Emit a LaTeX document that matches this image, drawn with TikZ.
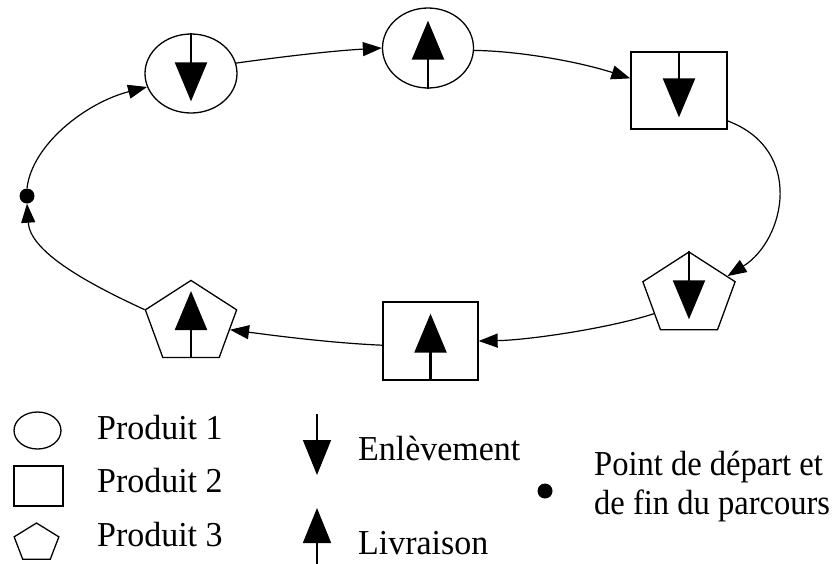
\documentclass[tikz,border=0pt]{standalone}
\usepackage{fontspec}
\setmainfont{Liberation Serif}[FakeStretch=0.97]
\newfontfamily\narrowserif{Liberation Serif}[FakeStretch=0.93]
\usetikzlibrary{arrows.meta,shapes.geometric}
\begin{document}
\begin{tikzpicture}[x=1pt,y=1pt,
  shp/.style={draw, line width=1.3pt, inner sep=0pt},
  ell/.style={shp, ellipse},
  box/.style={shp, rectangle},
  pent/.style={shp, regular polygon, regular polygon sides=5, transform shape},
  link/.style={line width=1.2pt, -{Triangle[length=19pt,width=14pt]}},
  bigarrow/.style={line width=2.4pt, -{Triangle[length=39pt,width=32pt]}},
  legarrow/.style={line width=1.6pt, -{Triangle[length=35pt,width=28pt]}},
  lbl/.style={anchor=base west, font=\fontsize{35}{40}\selectfont, inner sep=0pt},
  nlbl/.style={lbl, font=\narrowserif\fontsize{35}{40}\selectfont},
  pointdot/.style={circle, fill, inner sep=0pt, minimum size=15pt}]
\useasboundingbox (0,0) rectangle (839,-563);
% route nodes
\node[pointdot] (dep) at (27,-196) {};
\node[ell, minimum width=92pt, minimum height=79pt] (c1) at (191,-73.5) {};
\node[ell, minimum width=91pt, minimum height=80pt] (c2) at (428,-48) {};
\node[box, minimum width=96pt, minimum height=77pt] (s1) at (679,-90.5) {};
\node[pent, minimum size=97pt, yscale=0.887] (p1) at (689,-295) {};
\node[box, minimum width=95pt, minimum height=78pt] (s2) at (430.5,-341) {};
\node[pent, minimum size=96pt, yscale=0.887] (p2) at (191,-323) {};
% interior arrows
\draw[bigarrow] (c1.north) -- ++(0,-68);
\draw[bigarrow] (c2.south) -- ++(0,68);
\draw[bigarrow] (s1.north) -- ++(0,-66);
\draw[bigarrow] (p1.corner 1) -- ++(0,-68);
\draw[bigarrow] (s2.south) -- ++(0,67);
\draw[bigarrow] (p2.south) -- ++(0,67);
% connectors
\draw[link] (dep.north) .. controls (32,-145) and (85,-103) .. (c1.197);
\draw[link] (c1.13) .. controls (280,-57) and (330,-51) .. (c2.west);
\draw[link] (c2.357) .. controls (520,-51) and (580,-62) .. (s1.166);
\draw[link] (s1.328) .. controls (805,-150) and (785,-240) .. (p1.29);
\draw[link] (p1.211) .. controls (610,-328) and (530,-340) .. (s2.east);
\draw[link] (s2.185) .. controls (330,-343) and (270,-335) .. (p2.349);
\draw[link] (p2.corner 2) .. controls (80,-280) and (30,-250) .. (dep.south);
% legend
\node[ell, minimum width=47pt, minimum height=37pt] (lc) at (37.5,-430.5) {};
\node[box, minimum width=49pt, minimum height=40pt] (ls) at (38.5,-486) {};
\node[pent, minimum size=47pt, yscale=0.85] (lp) at (36.5,-543) {};
\node[lbl] (t1) at (97,-439) {Produit 1};
\node[lbl] (t2) at (97,-492) {Produit 2};
\node[lbl] (t3) at (97,-546) {Produit 3};
\coordinate (ea) at (317,-414);
\draw[legarrow] (ea) -- ++(0,-61);
\node[lbl] (te) at (358,-460) {Enlèvement};
\coordinate (la) at (317,-565);
\draw[legarrow] (la) -- ++(0,57);
\node[lbl] (tl) at (358,-554) {Livraison};
\node[pointdot] (ld) at (545,-491) {};
\node[nlbl] (tp1) at (594,-475) {Point de départ et};
\node[nlbl] (tp2) at (594,-514) {de fin du parcours};
\end{tikzpicture}
\end{document}
